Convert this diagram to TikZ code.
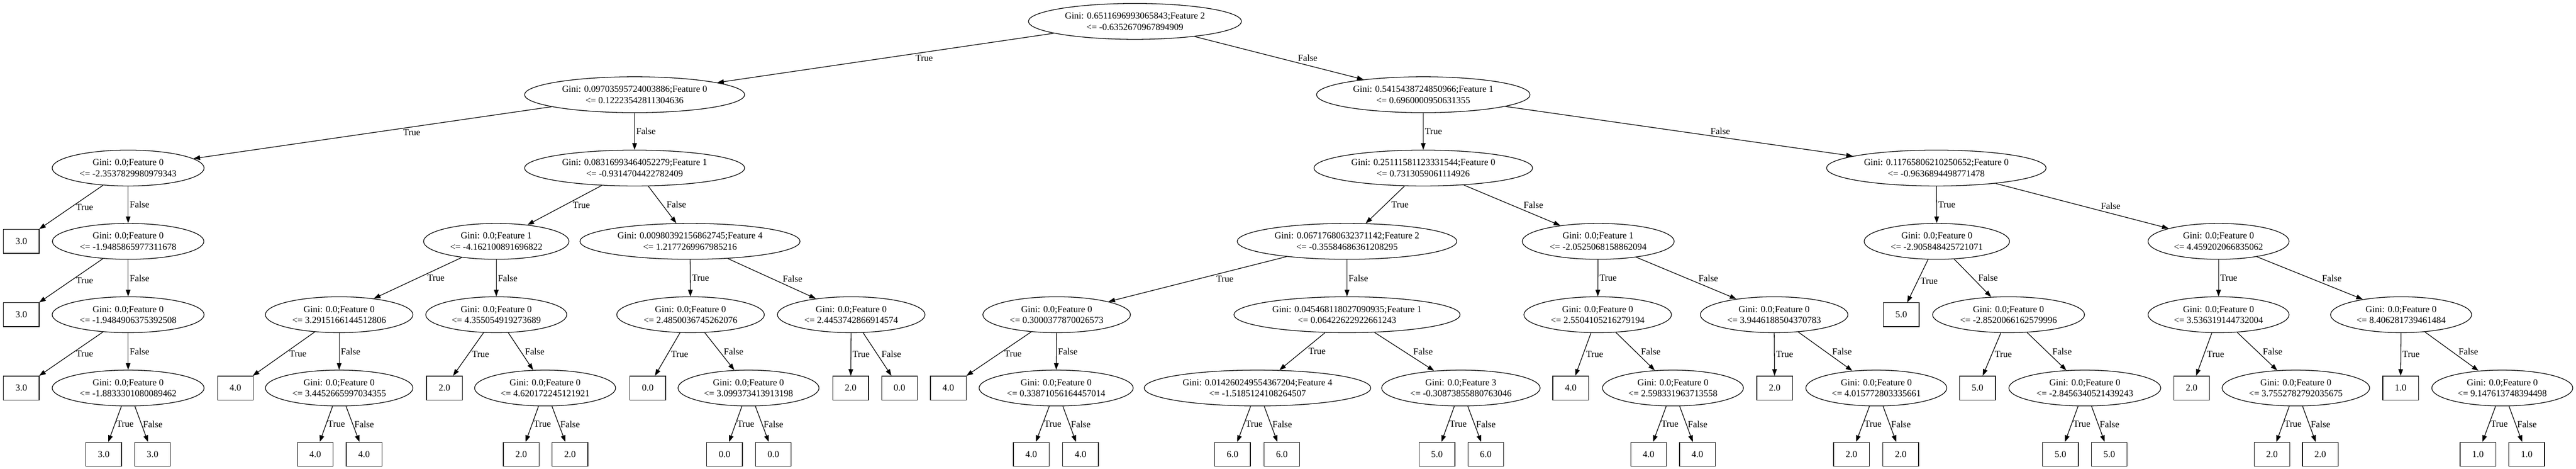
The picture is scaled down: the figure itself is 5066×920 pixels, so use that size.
\documentclass[tikz,border=0pt]{standalone}
\usepackage{fontspec}
\setmainfont{Liberation Serif}
\usetikzlibrary{shapes.geometric,arrows.meta}

\begin{document}
\begin{tikzpicture}[x=0.769pt,y=-0.769pt,
    font=\fontsize{14pt}{16.8pt}\selectfont,
    gini/.style={ellipse,draw,line width=1pt,inner xsep=8pt,inner ysep=6pt,align=center},
    leaf/.style={rectangle,draw,line width=1pt,minimum width=54pt,minimum height=36pt},
    arr/.style={-{Triangle[length=10pt,width=7pt]},line width=1pt},
    lbl/.style={midway,anchor=west,inner sep=2pt}]
        \path[use as bounding box,fill=white] (0,0) rectangle (5066,920);

        % rank 0 - 2
        \node[gini] (R) at (2232,42) {Gini: 0.6511696993065843;Feature 2\\<= -0.6352670967894909};
        \node[gini] (RT) at (1248,186) {Gini: 0.09703595724003886;Feature 0\\<= 0.12223542811304636};
        \node[gini] (RF) at (2799,186) {Gini: 0.5415438724850966;Feature 1\\<= 0.6960000950631355};
        \node[gini] (RTT) at (252,330) {Gini: 0.0;Feature 0\\<= -2.3537829980979343};
        \node[gini] (RTF) at (1248,330) {Gini: 0.08316993464052279;Feature 1\\<= -0.9314704422782409};
        \node[gini] (RFT) at (2799,330) {Gini: 0.25111581123331544;Feature 0\\<= 0.7313059061114926};
        \node[gini] (RFF) at (3808,330) {Gini: 0.11765806210250652;Feature 0\\<= -0.9636894498771478};

        % rank 3
        \node[leaf] (RTTT) at (42,474) {3.0};
        \node[gini] (RTTF) at (252,474) {Gini: 0.0;Feature 0\\<= -1.9485865977311678};
        \node[gini] (RTFT) at (976,474) {Gini: 0.0;Feature 1\\<= -4.162100891696822};
        \node[gini] (RTFF) at (1357,474) {Gini: 0.00980392156862745;Feature 4\\<= 1.2177269967985216};
        \node[gini] (RFTT) at (2649,474) {Gini: 0.06717680632371142;Feature 2\\<= -0.35584686361208295};
        \node[gini] (RFTF) at (3143,474) {Gini: 0.0;Feature 1\\<= -2.0525068158862094};
        \node[gini] (RFFT) at (3809,474) {Gini: 0.0;Feature 0\\<= -2.905848425721071};
        \node[gini] (RFFF) at (4363,474) {Gini: 0.0;Feature 0\\<= 4.459202066835062};

        % rank 4
        \node[leaf] (RTTFT) at (42,618) {3.0};
        \node[gini] (RTTFF) at (252,618) {Gini: 0.0;Feature 0\\<= -1.9484906375392508};
        \node[gini] (RTFTT) at (667,618) {Gini: 0.0;Feature 0\\<= 3.2915166144512806};
        \node[gini] (RTFTF) at (976,618) {Gini: 0.0;Feature 0\\<= 4.355054919273689};
        \node[gini] (RTFFT) at (1358,618) {Gini: 0.0;Feature 0\\<= 2.4850036745262076};
        \node[gini] (RTFFF) at (1674,618) {Gini: 0.0;Feature 0\\<= 2.4453742866914574};
        \node[gini] (RFTTT) at (2078,618) {Gini: 0.0;Feature 0\\<= 0.3000377870026573};
        \node[gini] (RFTTF) at (2649,618) {Gini: 0.045468118027090935;Feature 1\\<= 0.06422622922661243};
        \node[gini] (RFTFT) at (3142,618) {Gini: 0.0;Feature 0\\<= 2.5504105216279194};
        \node[gini] (RFTFF) at (3489,618) {Gini: 0.0;Feature 0\\<= 3.9446188504370783};
        \node[leaf] (RFFTT) at (3739,618) {5.0};
        \node[gini] (RFFTF) at (3950,618) {Gini: 0.0;Feature 0\\<= -2.8520066162579996};
        \node[gini] (RFFFT) at (4363,618) {Gini: 0.0;Feature 0\\<= 3.536319144732004};
        \node[gini] (RFFFF) at (4722,618) {Gini: 0.0;Feature 0\\<= 8.406281739461484};

        % rank 5
        \node[leaf] (RTTFFT) at (42,762) {3.0};
        \node[gini] (RTTFFF) at (252,762) {Gini: 0.0;Feature 0\\<= -1.8833301080089462};
        \node[leaf] (RTFTTT) at (463,762) {4.0};
        \node[gini] (RTFTTF) at (667,762) {Gini: 0.0;Feature 0\\<= 3.4452665997034355};
        \node[leaf] (RTFTFT) at (874,762) {2.0};
        \node[gini] (RTFTFF) at (1072,762) {Gini: 0.0;Feature 0\\<= 4.620172245121921};
        \node[leaf] (RTFFTT) at (1274,762) {0.0};
        \node[gini] (RTFFTF) at (1472,762) {Gini: 0.0;Feature 0\\<= 3.099373413913198};
        \node[leaf] (RTFFFT) at (1673,762) {2.0};
        \node[leaf] (RTFFFF) at (1769,762) {0.0};
        \node[leaf] (RFTTTT) at (1865,762) {4.0};
        \node[gini] (RFTTTF) at (2077,762) {Gini: 0.0;Feature 0\\<= 0.33871056164457014};
        \node[gini] (RFTTFT) at (2473,762) {Gini: 0.014260249554367204;Feature 4\\<= -1.5185124108264507};
        \node[gini] (RFTTFF) at (2873,762) {Gini: 0.0;Feature 3\\<= -0.30873855880763046};
        \node[leaf] (RFTFTT) at (3089,762) {4.0};
        \node[gini] (RFTFTF) at (3290,762) {Gini: 0.0;Feature 0\\<= 2.598331963713558};
        \node[leaf] (RFTFFT) at (3490,762) {2.0};
        \node[gini] (RFTFFF) at (3690,762) {Gini: 0.0;Feature 0\\<= 4.015772803335661};
        \node[leaf] (RFFTFT) at (3889,762) {5.0};
        \node[gini] (RFFTFF) at (4100,762) {Gini: 0.0;Feature 0\\<= -2.8456340521439243};
        \node[leaf] (RFFFTT) at (4310,762) {2.0};
        \node[gini] (RFFFTF) at (4515,762) {Gini: 0.0;Feature 0\\<= 3.7552782792035675};
        \node[leaf] (RFFFFT) at (4721,762) {1.0};
        \node[gini] (RFFFFF) at (4921,762) {Gini: 0.0;Feature 0\\<= 9.147613748394498};

        % rank 6
        \node[leaf] (RTTFFFT) at (204,892) {3.0};
        \node[leaf] (RTTFFFF) at (300,892) {3.0};
        \node[leaf] (RTFTTFT) at (620,892) {4.0};
        \node[leaf] (RTFTTFF) at (716,892) {4.0};
        \node[leaf] (RTFTFFT) at (1025,892) {2.0};
        \node[leaf] (RTFTFFF) at (1121,892) {2.0};
        \node[leaf] (RTFFTFT) at (1425,892) {0.0};
        \node[leaf] (RTFFTFF) at (1521,892) {0.0};
        \node[leaf] (RFTTTFT) at (2028,892) {4.0};
        \node[leaf] (RFTTTFF) at (2125,892) {4.0};
        \node[leaf] (RFTTFTT) at (2424,892) {6.0};
        \node[leaf] (RFTTFTF) at (2521,892) {6.0};
        \node[leaf] (RFTTFFT) at (2826,892) {5.0};
        \node[leaf] (RFTTFFF) at (2922,892) {6.0};
        \node[leaf] (RFTFTFT) at (3242,892) {4.0};
        \node[leaf] (RFTFTFF) at (3338,892) {4.0};
        \node[leaf] (RFTFFFT) at (3641,892) {2.0};
        \node[leaf] (RFTFFFF) at (3738,892) {2.0};
        \node[leaf] (RFFTFFT) at (4052,892) {5.0};
        \node[leaf] (RFFTFFF) at (4148,892) {5.0};
        \node[leaf] (RFFFTFT) at (4468,892) {2.0};
        \node[leaf] (RFFFTFF) at (4563,892) {2.0};
        \node[leaf] (RFFFFFT) at (4873,892) {1.0};
        \node[leaf] (RFFFFFF) at (4969,892) {1.0};

        \draw[arr] (R) edge node[lbl,xshift=43pt]{True} (RT) edge node[lbl,xshift=26pt]{False} (RF);
        \draw[arr] (RT) edge node[lbl,xshift=44pt]{True} (RTT) edge node[lbl]{False} (RTF);
        \draw[arr] (RF) edge node[lbl]{True} (RFT) edge node[lbl,xshift=45pt]{False} (RFF);
        \draw[arr] (RTT) edge node[lbl,xshift=5pt]{True} (RTTT) edge node[lbl]{False} (RTTF);
        \draw[arr] (RTF) edge node[lbl,xshift=10pt]{True} (RTFT) edge node[lbl,xshift=4pt]{False} (RTFF);
        \draw[arr] (RFT) edge node[lbl,xshift=7pt]{True} (RFTT) edge node[lbl,xshift=15pt]{False} (RFTF);
        \draw[arr] (RFF) edge node[lbl]{True} (RFFT) edge node[lbl,xshift=26pt]{False} (RFFF);
        \draw[arr] (RTTF) edge node[lbl,xshift=5pt]{True} (RTTFT) edge node[lbl]{False} (RTTFF);
        \draw[arr] (RTFT) edge node[lbl,xshift=12pt]{True} (RTFTT) edge node[lbl]{False} (RTFTF);
        \draw[arr] (RTFF) edge node[lbl]{True} (RTFFT) edge node[lbl,xshift=14pt]{False} (RTFFF);
        \draw[arr] (RFTT) edge node[lbl,xshift=26pt]{True} (RFTTT) edge node[lbl]{False} (RFTTF);
        \draw[arr] (RFTF) edge node[lbl]{True} (RFTFT) edge node[lbl,xshift=16pt]{False} (RFTFF);
        \draw[arr] (RFFT) edge node[lbl,xshift=2pt]{True} (RFFTT) edge node[lbl,xshift=6pt]{False} (RFFTF);
        \draw[arr] (RFFF) edge node[lbl]{True} (RFFFT) edge node[lbl,xshift=16pt]{False} (RFFFF);
        \draw[arr] (RTTFF) edge node[lbl,xshift=5pt]{True} (RTTFFT) edge node[lbl]{False} (RTTFFF);
        \draw[arr] (RTFTT) edge node[lbl,xshift=6pt]{True} (RTFTTT) edge node[lbl]{False} (RTFTTF);
        \draw[arr] (RTFTF) edge node[lbl,xshift=3pt]{True} (RTFTFT) edge node[lbl,xshift=4pt]{False} (RTFTFF);
        \draw[arr] (RTFFT) edge node[lbl,xshift=3pt]{True} (RTFFTT) edge node[lbl,xshift=4pt]{False} (RTFFTF);
        \draw[arr] (RTFFF) edge node[lbl]{True} (RTFFFT) edge node[lbl,xshift=4pt]{False} (RTFFFF);
        \draw[arr] (RFTTT) edge node[lbl,xshift=6pt]{True} (RFTTTT) edge node[lbl]{False} (RFTTTF);
        \draw[arr] (RFTTF) edge node[lbl,xshift=7pt]{True} (RFTTFT) edge node[lbl,xshift=11pt]{False} (RFTTFF);
        \draw[arr] (RFTFT) edge node[lbl,xshift=2pt]{True} (RFTFTT) edge node[lbl,xshift=6pt]{False} (RFTFTF);
        \draw[arr] (RFTFF) edge node[lbl]{True} (RFTFFT) edge node[lbl,xshift=8pt]{False} (RFTFFF);
        \draw[arr] (RFFTF) edge node[lbl,xshift=2pt]{True} (RFFTFT) edge node[lbl,xshift=6pt]{False} (RFFTFF);
        \draw[arr] (RFFFT) edge node[lbl,xshift=2pt]{True} (RFFFTT) edge node[lbl,xshift=6pt]{False} (RFFFTF);
        \draw[arr] (RFFFF) edge node[lbl]{True} (RFFFFT) edge node[lbl,xshift=8pt]{False} (RFFFFF);
        \draw[arr] (RTTFFF) edge node[lbl]{True} (RTTFFFT) edge node[lbl]{False} (RTTFFFF);
        \draw[arr] (RTFTTF) edge node[lbl]{True} (RTFTTFT) edge node[lbl]{False} (RTFTTFF);
        \draw[arr] (RTFTFF) edge node[lbl]{True} (RTFTFFT) edge node[lbl]{False} (RTFTFFF);
        \draw[arr] (RTFFTF) edge node[lbl]{True} (RTFFTFT) edge node[lbl]{False} (RTFFTFF);
        \draw[arr] (RFTTTF) edge node[lbl]{True} (RFTTTFT) edge node[lbl]{False} (RFTTTFF);
        \draw[arr] (RFTTFT) edge node[lbl]{True} (RFTTFTT) edge node[lbl]{False} (RFTTFTF);
        \draw[arr] (RFTTFF) edge node[lbl]{True} (RFTTFFT) edge node[lbl]{False} (RFTTFFF);
        \draw[arr] (RFTFTF) edge node[lbl]{True} (RFTFTFT) edge node[lbl]{False} (RFTFTFF);
        \draw[arr] (RFTFFF) edge node[lbl]{True} (RFTFFFT) edge node[lbl]{False} (RFTFFFF);
        \draw[arr] (RFFTFF) edge node[lbl]{True} (RFFTFFT) edge node[lbl]{False} (RFFTFFF);
        \draw[arr] (RFFFTF) edge node[lbl]{True} (RFFFTFT) edge node[lbl]{False} (RFFFTFF);
        \draw[arr] (RFFFFF) edge node[lbl]{True} (RFFFFFT) edge node[lbl]{False} (RFFFFFF);
\end{tikzpicture}
\end{document}
